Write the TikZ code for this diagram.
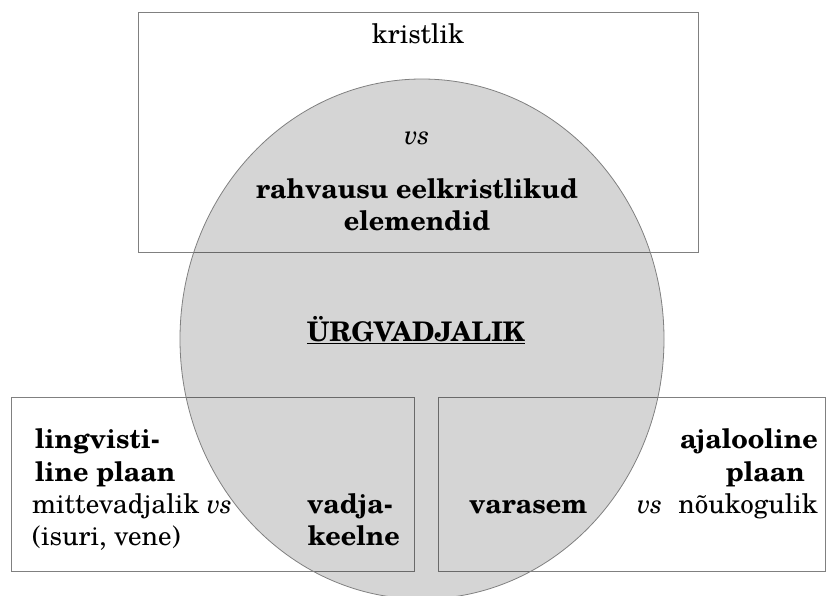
\documentclass[tikz,border=0pt]{standalone}
\usepackage{fontspec}
\setmainfont{TeX Gyre Schola}
\usetikzlibrary{shapes.geometric}
\begin{document}
\begin{tikzpicture}[x=1pt,y=-1pt,
  box/.style={draw=gray,line width=0.8pt},
  txt/.style={inner sep=0pt,font=\fontsize{27}{32}\selectfont},
  blob/.style={ellipse,draw=gray,line width=0.8pt,fill=black,fill opacity=0.165,inner sep=0pt,minimum width=484pt,minimum height=520pt}]
\useasboundingbox (0,0) rectangle (827,595);
\begin{scope}
\clip (0,0) rectangle (827,595);
\draw[box] (138,12) rectangle (698,252);
\draw[box] (11,397) rectangle (414,571);
\draw[box] (438,397) rectangle (825,571);
\node[blob] (circ) at (422,339) {};
\end{scope}
% top box
\node[txt,anchor=base] (kr) at (418,43) {kristlik};
\node[txt,anchor=base] (vs1) at (417,144) {\textit{vs}};
\node[txt,anchor=base] (rv1) at (417,198) {\textbf{rahvausu eelkristlikud}};
\node[txt,anchor=base] (rv2) at (417,230) {\textbf{elemendid}};
% centre
\node[txt,anchor=base] (ur) at (416,341) {\underline{\textbf{ÜRGVADJALIK}}};
% bottom left
\node[txt,anchor=base west] (l1) at (35,448) {\textbf{lingvisti-}};
\node[txt,anchor=base west] (l2) at (35,481) {\textbf{line plaan}};
\node[txt,anchor=base west] (l3) at (32,513) {mittevadjalik \textit{vs}};
\node[txt,anchor=base west] (l4) at (32,545) {(isuri, vene)};
\node[txt,anchor=base east] (v1) at (393,513) {\textbf{vadja-}};
\node[txt,anchor=base east] (v2) at (400,545) {\textbf{keelne}};
% bottom right
\node[txt,anchor=base east] (r1) at (818,448) {\textbf{ajalooline}};
\node[txt,anchor=base east] (r2) at (805,481) {\textbf{plaan}};
\node[txt,anchor=base west] (r3) at (469,513) {\textbf{varasem}};
\node[txt,anchor=base west] (r4) at (637,513) {\textit{vs}};
\node[txt,anchor=base east] (r5) at (818,513) {nõukogulik};
\end{tikzpicture}
\end{document}
